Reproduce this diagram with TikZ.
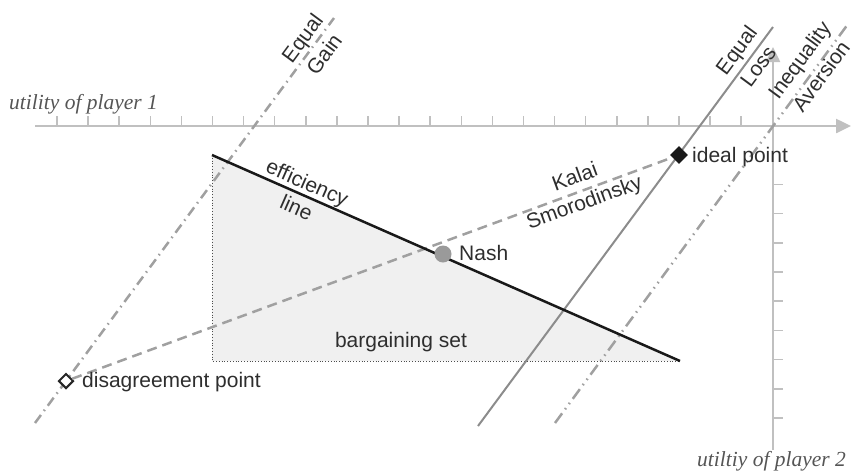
\documentclass[tikz,border=0pt]{standalone}
\usepackage{fontspec}
\setmainfont{Liberation Sans}
\newfontfamily\axisfont{Liberation Serif}
\usetikzlibrary{arrows.meta,shapes.geometric}
\definecolor{axisgray}{HTML}{C0C0C0}
\definecolor{linegray}{HTML}{A0A0A0}
\definecolor{solidgray}{HTML}{8C8C8C}
\definecolor{txt}{HTML}{2E2E2E}
\definecolor{axtxt}{HTML}{555555}
\definecolor{setfill}{HTML}{F0F0F0}
\definecolor{nashgray}{HTML}{9A9A9A}
\tikzset{
  axisline/.style={draw=axisgray, line width=2.5pt, -{Triangle[length=15pt,width=14pt]}},
  tickline/.style={draw=axisgray, line width=1.5pt},
  effline/.style={draw=black!90, line width=2.5pt},
  setedge/.style={draw=black!70, line width=0.8pt, dotted},
  kalailine/.style={draw=linegray, line width=2.5pt, dash pattern=on 10pt off 6pt},
  gainline/.style={draw=linegray, line width=2.5pt, dash pattern=on 10pt off 5pt on 1.5pt off 5pt},
  lossline/.style={draw=solidgray, line width=2pt},
  aversionline/.style={draw=linegray, line width=2.5pt, dash pattern=on 12pt off 5pt on 1.5pt off 5pt on 1.5pt off 5pt},
  lbl/.style={text=txt, inner sep=0pt, font=\fontsize{21}{27}\selectfont},
  rlbl/.style={lbl, align=center},
  axlbl/.style={text=axtxt, inner sep=0pt, font=\axisfont\itshape\fontsize{21.5}{24}\selectfont},
}
\begin{document}
\begin{tikzpicture}[x=1pt,y=-1pt]
\useasboundingbox (0,0) rectangle (851,475);
% bargaining set
\coordinate (TL) at (212,155);
\coordinate (BL) at (212,361);
\coordinate (BR) at (680,361);
\fill[setfill] (TL) -- (BL) -- (BR) -- cycle;
\draw[setedge] (TL) -- (BL) -- (BR);
% axes
\coordinate (xs) at (35,126);
\coordinate (xe) at (851,126);
\coordinate (ys) at (773,450);
\coordinate (ye) at (773,47);
\draw[axisline] (xs) -- (xe);
\draw[axisline] (ys) -- (ye);
\foreach \k in {0,...,22} \draw[tickline] ({57+31.1*\k},126) -- ++(0,-10);
\foreach \k in {2,...,10} \draw[tickline] (773,{126+29.2*\k}) -- ++(10,0);
% solution lines
\coordinate (eg1) at (35,423);
\coordinate (eg2) at (334,18);
\draw[gainline] (eg1) -- (eg2);
\coordinate (el1) at (478,426);
\coordinate (el2) at (773,27);
\draw[lossline] (el1) -- (el2);
\coordinate (ia1) at (555,423);
\coordinate (ia2) at (848,24);
\draw[aversionline] (ia1) -- (ia2);
% points
\node[diamond, draw=black!85, fill=white, line width=2pt, minimum size=15pt, inner sep=0pt] (dis) at (66,381) {};
\node[diamond, fill=black!90, minimum size=18pt, inner sep=0pt] (ideal) at (679,155) {};
\draw[kalailine] (dis) -- (ideal);
\draw[effline] (TL) -- (BR);
\node[circle, fill=nashgray, minimum size=17pt, inner sep=0pt] (nash) at (443,254) {};
% labels
\node[lbl, anchor=base west] (disl) at (82,387) {disagreement point};
\node[lbl, anchor=base west] (ideall) at (692,162) {ideal point};
\node[lbl, anchor=base west] (nashl) at (459,260) {Nash};
\node[lbl, anchor=base] (setl) at (401,347) {bargaining set};
\node[rlbl, rotate=-23.8] (effl) at (302,195) {efficiency\\line};
\node[rlbl, rotate=20.2] (kl) at (580,191) {Kalai\\Smorodinsky};
\node[rlbl, rotate=53.6] (egl) at (313,46) {Equal\\Gain};
\node[rlbl, rotate=53.5] (ell) at (747,58) {Equal\\Loss};
\node[rlbl, rotate=53.7] (ial) at (810,68) {Inequality\\Aversion};
\node[axlbl, anchor=base west] (x1) at (9,109) {utility of player 1};
\node[axlbl, anchor=base west] (x2) at (697,466) {utiltiy of player 2};
\end{tikzpicture}
\end{document}
